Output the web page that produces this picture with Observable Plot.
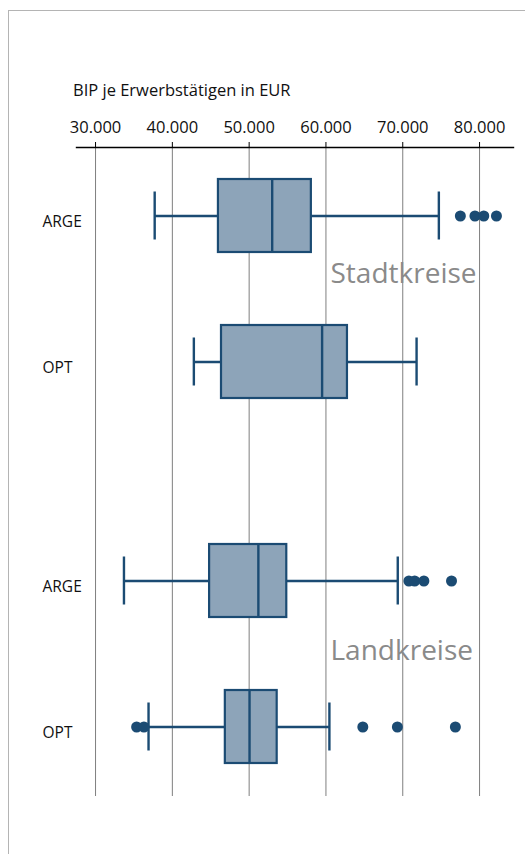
<!DOCTYPE html>
<html>
<head>
<meta charset="utf-8">
<script src="https://cdn.jsdelivr.net/npm/d3@7"></script>
<script src="https://cdn.jsdelivr.net/npm/@observablehq/plot@0.6"></script>
<style>
  html, body { margin: 0; padding: 0; background: #fff; }
  body { width: 525px; height: 854px; position: relative; overflow: hidden; font-family: "Open Sans", sans-serif; }
  #border { position: absolute; left: 8px; top: 10px; width: 600px; height: 900px; border-left: 1.3px solid #b4b4b4; border-top: 1.3px solid #b4b4b4; }
  #title { position: absolute; left: 73px; top: 79px; font-size: 16.5px; line-height: 1.362; color: #111; white-space: nowrap; }
  #chart { position: absolute; left: 0; top: 0; }
</style>
</head>
<body>
<div id="border"></div>
<div id="chart"></div>
<div id="title">BIP je Erwerbstätigen in EUR</div>
<script>
// ---- data ----
const groups = ["Stadtkreise", "Landkreise"];
const rowGroup = ["Stadtkreise", "Stadtkreise", "Landkreise", "Landkreise"];
const rowType = ["ARGE", "OPT", "ARGE", "OPT"];
const whiskerLow = [37700, 42800, 33700, 36900];
const q1 = [46000, 46400, 44850, 46900];
const median = [53000, 59500, 51200, 50050];
const q3 = [58100, 62800, 54900, 53650];
const whiskerHigh = [74700, 71800, 69350, 60450];
const outliers = [
  [77500, 79400, 80550, 82200],
  [],
  [70800, 71550, 72750, 76350],
  [35350, 36300, 64800, 69300, 76850]
];
const xTicks = [30000, 40000, 50000, 60000, 70000, 80000];

// ---- tables ----
const rows = rowType.map((t, i) => ({
  key: rowGroup[i] + " " + t, type: t, group: rowGroup[i],
  lo: whiskerLow[i], q1: q1[i], med: median[i], q3: q3[i], hi: whiskerHigh[i]
}));
const outlierRows = outliers.flatMap((arr, i) => arr.map(v => ({key: rows[i].key, v})));
// band slots: each group = ARGE, label, OPT; plus spacer slots between groups
const yDomain = [
  "Stadtkreise ARGE", "Stadtkreise", "Stadtkreise OPT",
  "gap1", "gap2",
  "Landkreise ARGE", "Landkreise", "Landkreise OPT"
];

const dark = "#1b4b73";
const fill = "#8da4b9";
const fmt = d => d.toLocaleString("de-DE");

const chart = Plot.plot({
  width: 525,
  height: 854,
  marginTop: 147,
  marginBottom: 60,
  marginLeft: 76,
  marginRight: 12,
  style: {fontFamily: "Open Sans, sans-serif", background: "transparent", overflow: "visible", color: "#000"},
  x: {domain: [27520, 84420], axis: null},
  y: {domain: yDomain, padding: 0, paddingOuter: 0.4315, axis: null},
  marks: [
    Plot.ruleX(xTicks, {stroke: "#7f7f7f", strokeWidth: 1, insetBottom: -2}),
    Plot.axisX(xTicks, {anchor: "top", tickSize: 6, tickFormat: () => "", label: null, stroke: "#000"}),
    Plot.text(xTicks, {x: d => d, text: fmt, frameAnchor: "top", lineAnchor: "bottom", dy: -14.3, fontSize: 16.5, fill: "#111", fontWeight: "normal"}),
    Plot.frame({anchor: "top", stroke: "#000", strokeWidth: 1.4}),
    Plot.ruleY(rows, {y: "key", x1: "lo", x2: "hi", stroke: dark, strokeWidth: 2.4}),
    Plot.barX(rows, {y: "key", x1: "q1", x2: "q3", fill: fill, stroke: dark, strokeWidth: 2.2}),
    Plot.tickX(rows, {y: "key", x: "med", stroke: dark, strokeWidth: 2.4}),
    Plot.tickX(rows, {y: "key", x: "lo", stroke: dark, strokeWidth: 2.4, insetTop: 12.5, insetBottom: 12.5}),
    Plot.tickX(rows, {y: "key", x: "hi", stroke: dark, strokeWidth: 2.4, insetTop: 12.5, insetBottom: 12.5}),
    Plot.dot(outlierRows, {y: "key", x: "v", r: 5.5, fill: dark, stroke: "none"}),
    Plot.text(rows, {y: "key", text: "type", frameAnchor: "left", textAnchor: "start", dx: -34, dy: 6, fontSize: 15.5, fill: "#111"}),
    Plot.text([groups[0]], {y: d => d, text: d => d, frameAnchor: "left", textAnchor: "start", dx: 254, dy: -14.5, fontSize: 28, fill: "#8a8a8a"}),
    Plot.text([groups[1]], {y: d => d, text: d => d, frameAnchor: "left", textAnchor: "start", dx: 254, dy: -2.5, fontSize: 28, fill: "#8a8a8a"})
  ]
});
document.getElementById("chart").appendChild(chart);
</script>
</body>
</html>
